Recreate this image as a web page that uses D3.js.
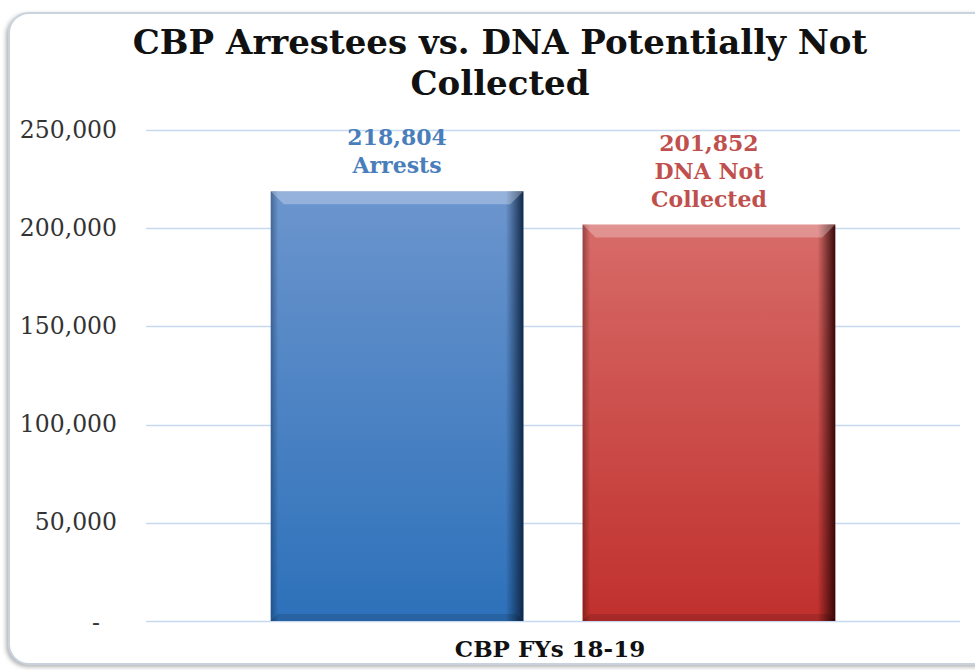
<!DOCTYPE html>
<html>
<head>
<meta charset="utf-8">
<script src="https://cdn.jsdelivr.net/npm/d3@7"></script>
<style>
  html, body { margin: 0; padding: 0; background: #fff; }
  svg { display: block; }
</style>
</head>
<body>
<div id="chart"></div>
<script>
// data
const category = "CBP FYs 18-19";
const seriesNames = ["Arrests", "DNA Not Collected"];
const values = [218804, 201852];
const labelLines = [["218,804", "Arrests"], ["201,852", "DNA Not", "Collected"]];
const yTicks = [0, 50000, 100000, 150000, 200000, 250000];
const titleLines = ["CBP Arrestees vs. DNA Potentially Not", "Collected"];

const width = 975, height = 670;
const margin = { top: 130, right: 15, bottom: 49, left: 146 };

const palette = {
  "Arrests": { top: "#6c95cd", bottom: "#2d71ba", edge: "#0d2340", text: "#4a7ebb" },
  "DNA Not Collected": { top: "#d76b68", bottom: "#c0302d", edge: "#2e0606", text: "#c0504d" }
};

const svg = d3.select("#chart").append("svg")
  .attr("width", width)
  .attr("height", height);

const defs = svg.append("defs");

const shadow = defs.append("filter").attr("id", "frameShadow")
  .attr("x", "-5%").attr("y", "-5%").attr("width", "110%").attr("height", "110%");
shadow.append("feDropShadow")
  .attr("dx", -2).attr("dy", 2).attr("stdDeviation", 2)
  .attr("flood-color", "#7f7f7f").attr("flood-opacity", 0.6);

seriesNames.forEach((s, i) => {
  const c = palette[s];
  const v = defs.append("linearGradient").attr("id", "fill" + i)
    .attr("x1", 0).attr("y1", 0).attr("x2", 0).attr("y2", 1);
  v.append("stop").attr("offset", "0%").attr("stop-color", c.top);
  v.append("stop").attr("offset", "100%").attr("stop-color", c.bottom);

  const h = defs.append("linearGradient").attr("id", "edge" + i)
    .attr("x1", 0).attr("y1", 0).attr("x2", 1).attr("y2", 0);
  h.append("stop").attr("offset", "0%").attr("stop-color", c.edge).attr("stop-opacity", 0.4);
  h.append("stop").attr("offset", "3%").attr("stop-color", c.edge).attr("stop-opacity", 0);
  h.append("stop").attr("offset", "93%").attr("stop-color", c.edge).attr("stop-opacity", 0);
  h.append("stop").attr("offset", "100%").attr("stop-color", c.edge).attr("stop-opacity", 0.95);
});

// frame
svg.append("rect")
  .attr("x", 9).attr("y", 13)
  .attr("width", 1000).attr("height", 651)
  .attr("rx", 20)
  .attr("fill", "#fff")
  .attr("stroke", "#c9d3dd")
  .attr("stroke-width", 2)
  .attr("filter", "url(#frameShadow)");

// title
svg.append("text")
  .attr("text-anchor", "middle")
  .attr("font-family", "DejaVu Serif")
  .attr("font-weight", "bold")
  .attr("font-size", 34)
  .attr("fill", "#111")
  .selectAll("tspan")
  .data(titleLines)
  .join("tspan")
  .attr("x", 500)
  .attr("y", (d, i) => 54 + i * 41)
  .text(d => d);

const x = d3.scaleBand()
  .domain(seriesNames)
  .range([margin.left, width - margin.right])
  .paddingInner(0.19)
  .paddingOuter(0.4);

const y = d3.scaleLinear()
  .domain([0, 250000])
  .range([height - margin.bottom, margin.top]);

// gridlines
svg.append("g")
  .selectAll("line")
  .data(yTicks)
  .join("line")
  .attr("x1", margin.left)
  .attr("x2", width - margin.right)
  .attr("y1", d => Math.round(y(d)) + 0.5)
  .attr("y2", d => Math.round(y(d)) + 0.5)
  .attr("stroke", "#c6d9f0")
  .attr("stroke-width", 1.5);

// y axis labels
const yAxis = d3.axisLeft(y)
  .tickValues(yTicks)
  .tickSize(0)
  .tickPadding(29)
  .tickFormat(d => d === 0 ? "-" : d3.format(",")(d));

svg.append("g")
  .attr("transform", `translate(${margin.left},0)`)
  .call(yAxis)
  .call(g => g.select(".domain").remove())
  .call(g => g.selectAll("text")
    .attr("font-family", "DejaVu Serif")
    .attr("font-size", 23.5)
    .attr("fill", "#333")
    .attr("dy", "0.3em"))
  .call(g => g.selectAll(".tick").filter(d => d === 0).select("text")
    .attr("dx", -17).attr("dy", "0.4em"));

// bars
const bars = svg.append("g")
  .selectAll("g")
  .data(seriesNames.map((s, i) => ({ s, i, v: values[i] })))
  .join("g");

bars.append("rect")
  .attr("x", d => x(d.s))
  .attr("y", d => y(d.v))
  .attr("width", x.bandwidth())
  .attr("height", d => y(0) - y(d.v))
  .attr("fill", d => `url(#fill${d.i})`);

// dark side edges
bars.append("rect")
  .attr("x", d => x(d.s))
  .attr("y", d => y(d.v))
  .attr("width", x.bandwidth())
  .attr("height", d => y(0) - y(d.v))
  .attr("fill", d => `url(#edge${d.i})`);

// top bevel highlight
bars.append("path")
  .attr("d", d => {
    const x0 = x(d.s), x1 = x0 + x.bandwidth(), t = y(d.v), b = 13;
    return `M${x0},${t}L${x1},${t}L${x1 - b},${t + b}L${x0 + b},${t + b}Z`;
  })
  .attr("fill", "#fff")
  .attr("fill-opacity", 0.28);

// bottom bevel shade
bars.append("path")
  .attr("d", d => {
    const x0 = x(d.s), x1 = x0 + x.bandwidth(), bt = y(0), b = 7;
    return `M${x0},${bt}L${x1},${bt}L${x1 - b},${bt - b}L${x0 + b},${bt - b}Z`;
  })
  .attr("fill", "#000")
  .attr("fill-opacity", 0.13);

// value labels
svg.append("g")
  .selectAll("text")
  .data(seriesNames.map((s, i) => ({ s, i, v: values[i], lines: labelLines[i] })))
  .join("text")
  .attr("text-anchor", "middle")
  .attr("font-family", "DejaVu Serif")
  .attr("font-weight", "bold")
  .attr("font-size", 22)
  .attr("fill", d => palette[d.s].text)
  .each(function (d) {
    const n = d.lines.length;
    const base = y(d.v) - 18 - (n - 1) * 28;
    d3.select(this).selectAll("tspan")
      .data(d.lines)
      .join("tspan")
      .attr("x", x(d.s) + x.bandwidth() / 2)
      .attr("y", (l, j) => base + j * 28)
      .text(l => l);
  });

// category label
svg.append("text")
  .attr("x", (margin.left + width - margin.right) / 2 - 3)
  .attr("y", 657)
  .attr("text-anchor", "middle")
  .attr("font-family", "DejaVu Serif")
  .attr("font-weight", "bold")
  .attr("font-size", 23)
  .attr("fill", "#111")
  .text(category);
</script>
</body>
</html>
